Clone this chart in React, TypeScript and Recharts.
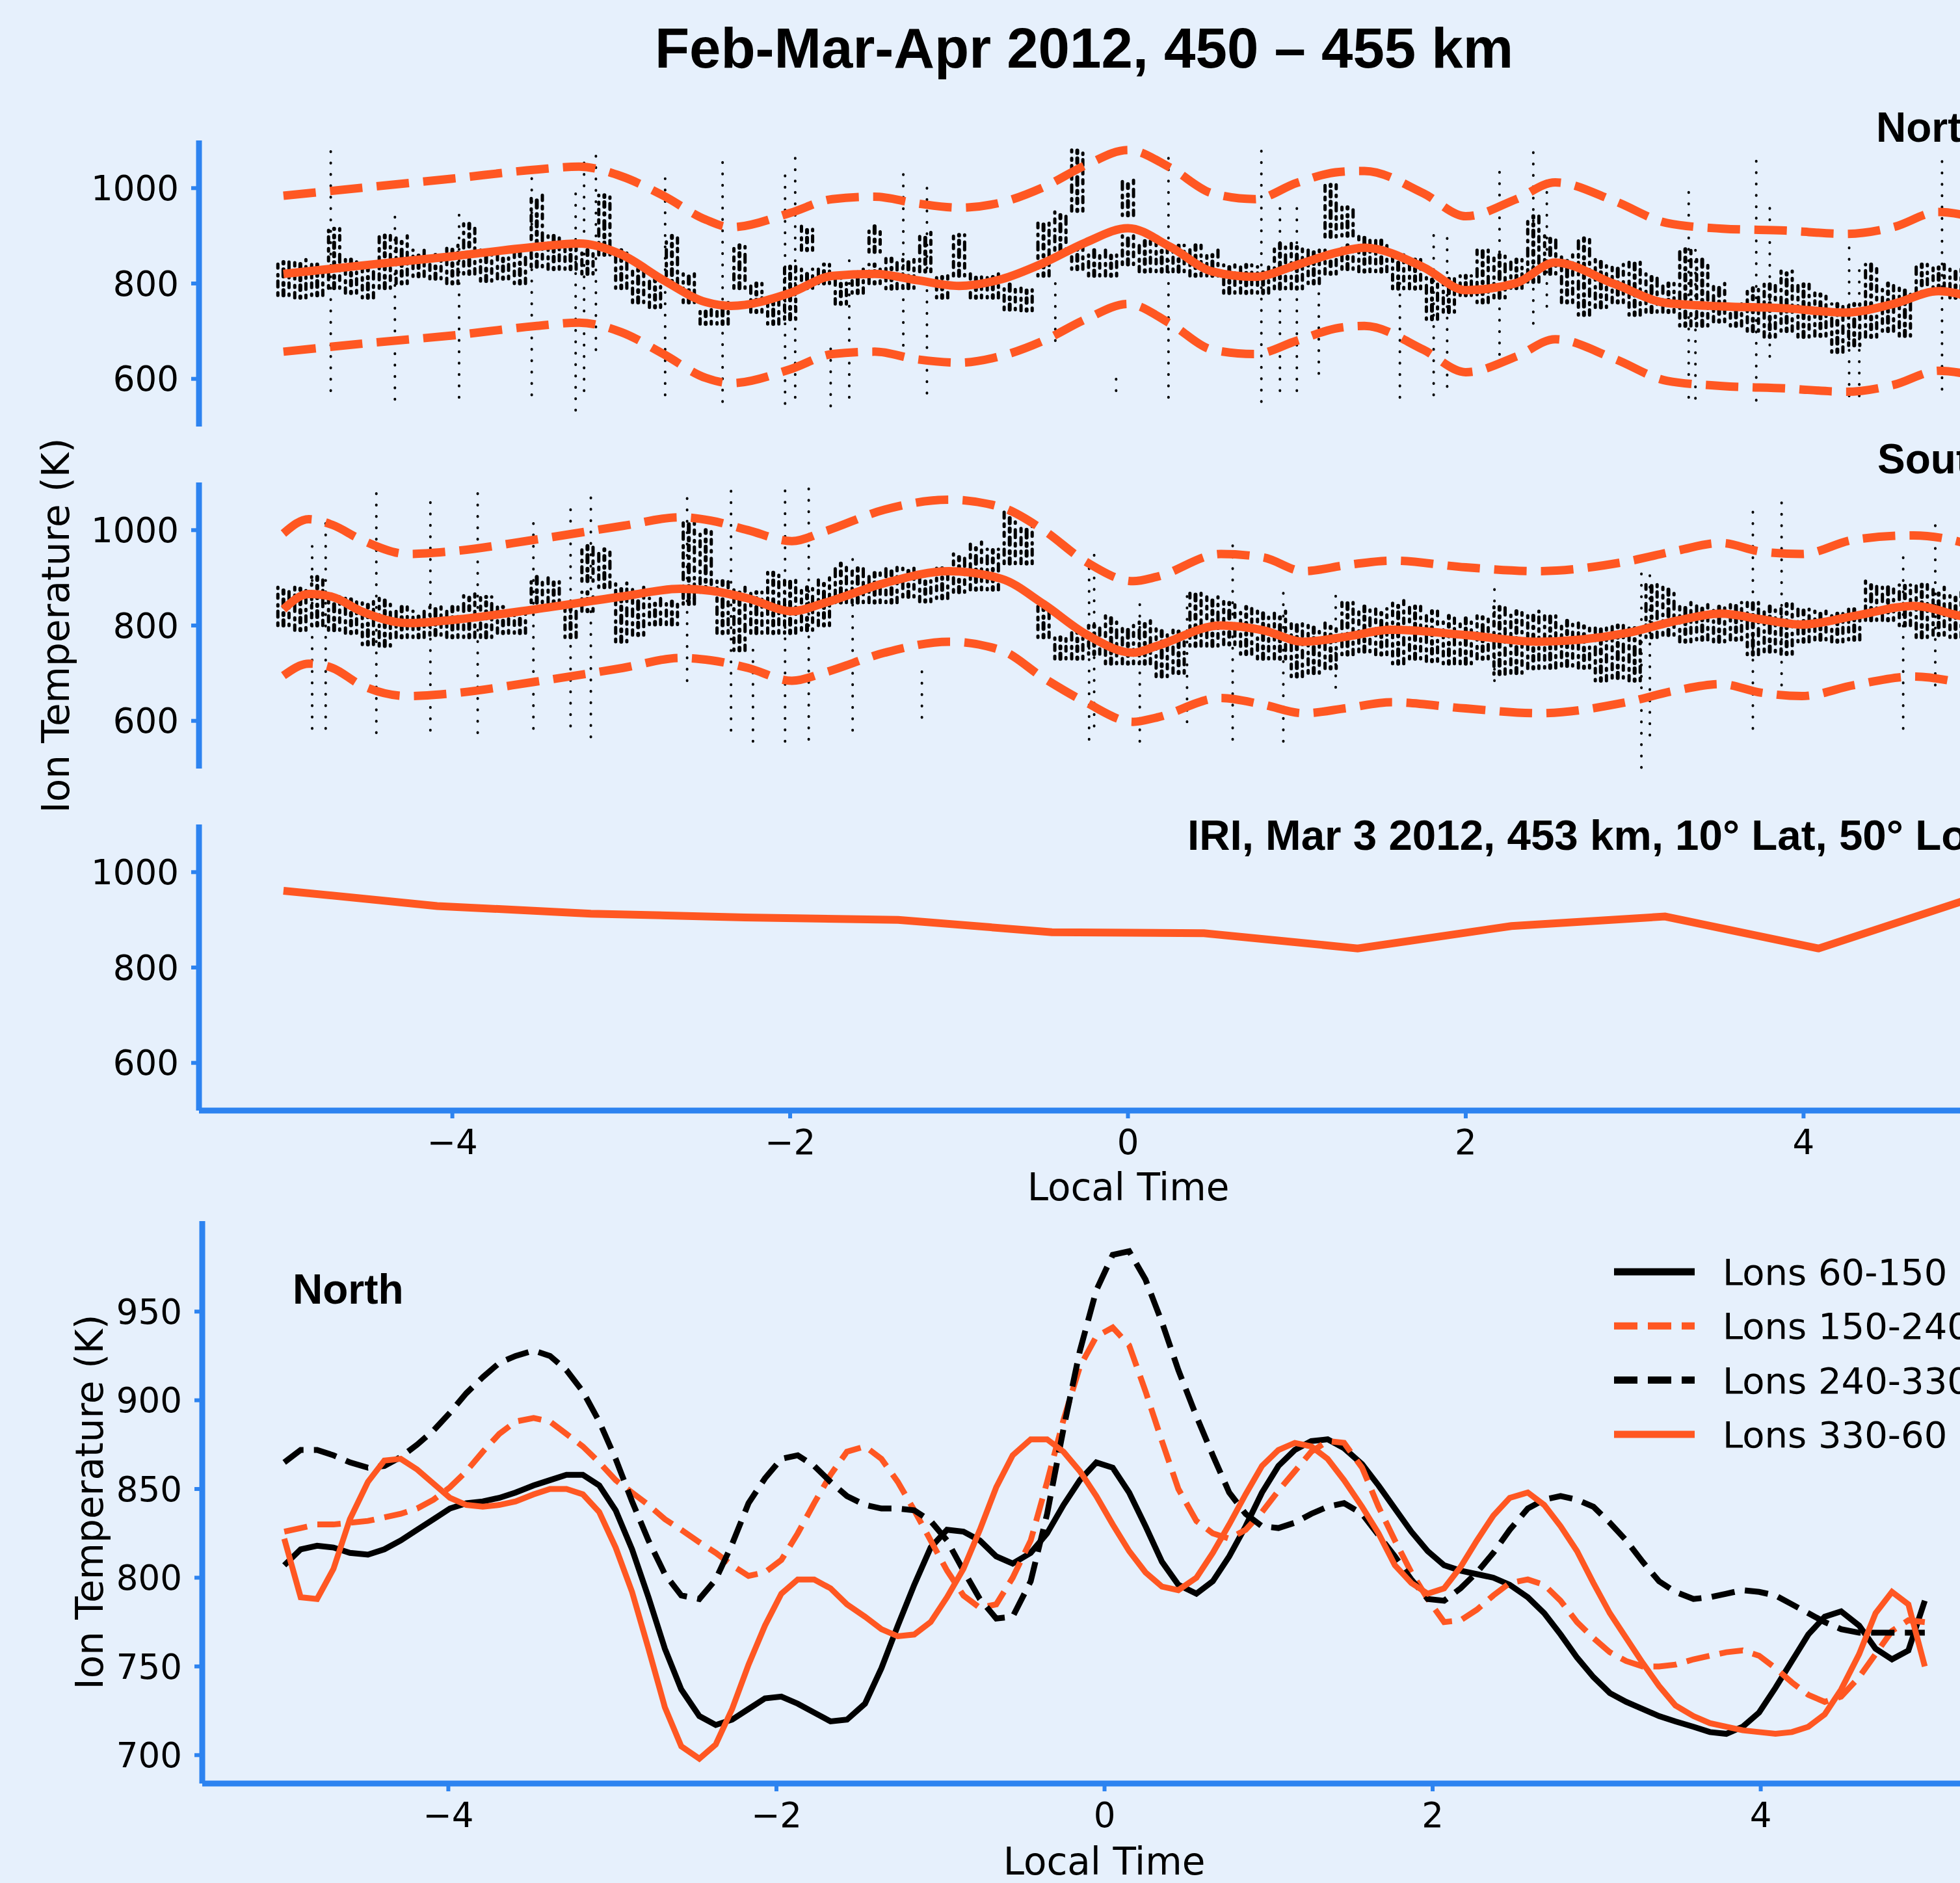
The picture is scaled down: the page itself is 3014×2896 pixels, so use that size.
import React from "react";
import { ComposedChart, LineChart, Line, XAxis, YAxis, ReferenceLine } from "recharts";

const BG = "#e6f0fc";
const SPINE = "#2d83f0";
const ORANGE = "#ff5722";
const TICK_STYLE = { fontSize: 53, fill: "#000", fontFamily: "DejaVu Sans" };
const X_TICKS = [-4, -2, 0, 2, 4];
const minus = (v: number) => (v < 0 ? `\u2212${-v}` : `${v}`);

// ---- North, 450-455 km: running mean and +/- band
const northTime = [-5, -4.5, -4, -3.5, -3.25, -3, -2.75, -2.5, -2.35, -2, -1.75, -1.5, -1.25, -1, -0.75, -0.5, -0.25, 0, 0.25, 0.5, 0.75, 1, 1.25, 1.4, 1.75, 2, 2.3, 2.53, 2.88, 3.19, 3.52, 3.89, 4.25, 4.53, 4.8, 5];
const northMean = [820, 839, 857, 877, 884, 861, 807, 761, 753, 780, 816, 820, 807, 795, 809, 843, 886, 916, 877, 825, 814, 839, 866, 875, 834, 786, 801, 844, 799, 759, 752, 748, 739, 757, 784, 770];
const northUpper = [984, 1002, 1020, 1039, 1045, 1025, 984, 934, 918, 948, 977, 982, 968, 959, 970, 1002, 1048, 1080, 1043, 989, 977, 1011, 1034, 1036, 989, 941, 977, 1012, 973, 927, 915, 911, 904, 918, 950, 940];
const northLower = [657, 675, 691, 711, 718, 698, 652, 602, 591, 620, 652, 657, 641, 634, 648, 680, 725, 757, 716, 661, 652, 680, 707, 711, 661, 614, 647, 683, 642, 596, 585, 580, 573, 587, 617, 608];

// dense part of the measurements: [local time, low, high]
const northCore = [
  [-5.0, 775, 845], [-4.9, 770, 850], [-4.8, 775, 840], [-4.7, 790, 915], [-4.6, 780, 850], [-4.5, 770, 845], [-4.4, 790, 905], [-4.3, 800, 900], [-4.2, 815, 870], [-4.1, 810, 860],
  [-4.0, 800, 880], [-3.9, 820, 925], [-3.8, 805, 870], [-3.7, 810, 860], [-3.6, 800, 865], [-3.5, 835, 985], [-3.4, 830, 900], [-3.3, 830, 880], [-3.2, 820, 870], [-3.1, 860, 985],
  [-3.0, 790, 870], [-2.9, 760, 830], [-2.8, 750, 810], [-2.7, 800, 900], [-2.6, 760, 820], [-2.5, 715, 750], [-2.4, 715, 760], [-2.3, 790, 880], [-2.2, 740, 800], [-2.1, 715, 770],
  [-2.0, 725, 843], [-1.9, 870, 920], [-1.9, 790, 830], [-1.8, 800, 840], [-1.7, 757, 816], [-1.6, 780, 830], [-1.5, 866, 920], [-1.5, 800, 840], [-1.4, 789, 852], [-1.3, 790, 850],
  [-1.2, 825, 907], [-1.1, 770, 816], [-1.0, 816, 902], [-0.9, 770, 820], [-0.8, 770, 820], [-0.7, 745, 798], [-0.6, 743, 790], [-0.5, 816, 930], [-0.4, 870, 950], [-0.3, 952, 1080],
  [-0.3, 830, 880], [-0.2, 816, 870], [-0.1, 816, 870], [0.0, 943, 1020], [0.0, 840, 900], [0.1, 825, 889], [0.2, 825, 889], [0.3, 825, 880], [0.4, 816, 880], [0.5, 816, 870],
  [0.6, 780, 839], [0.7, 780, 839], [0.8, 780, 835], [0.9, 789, 884], [1.0, 789, 884], [1.1, 800, 870], [1.2, 898, 1007], [1.2, 820, 870], [1.3, 900, 960], [1.3, 830, 880],
  [1.4, 825, 902], [1.5, 825, 890], [1.6, 789, 861], [1.7, 789, 850], [1.8, 725, 816], [1.9, 740, 810], [2.0, 775, 816], [2.1, 760, 870], [2.2, 770, 860], [2.3, 790, 850],
  [2.4, 803, 941], [2.5, 820, 900], [2.6, 760, 860], [2.7, 734, 895], [2.8, 750, 850], [2.9, 760, 840], [3.0, 734, 845], [3.1, 740, 820], [3.2, 740, 800], [3.3, 711, 872],
  [3.4, 711, 850], [3.5, 720, 800], [3.6, 711, 757], [3.7, 700, 790], [3.8, 688, 803], [3.9, 700, 826], [4.0, 688, 800], [4.1, 690, 780], [4.2, 656, 757], [4.3, 670, 757],
  [4.4, 688, 840], [4.5, 700, 800], [4.6, 690, 790], [4.7, 780, 840], [4.8, 790, 840], [4.9, 770, 830],
];
// sparse vertical runs of points: [local time, low, high]
const northStreaks = [
  [-4.72, 575, 1100], [-4.34, 557, 948], [-3.96, 561, 957], [-3.53, 566, 1025], [-3.27, 534, 989], [-3.22, 575, 1070], [-3.15, 661, 1070], [-2.74, 566, 1020], [-2.4, 552, 1061],
  [-2.03, 548, 1034], [-1.97, 561, 1075], [-1.76, 543, 680], [-1.65, 561, 870], [-1.33, 670, 1043], [-1.19, 570, 1002], [-0.43, 680, 816], [-0.07, 575, 611], [0.24, 561, 1070],
  [0.79, 552, 1098], [0.9, 575, 961], [1.0, 575, 966], [1.13, 611, 793], [1.61, 561, 807], [1.81, 566, 916], [1.89, 584, 916], [2.2, 651, 1037], [2.4, 716, 1078], [2.48, 752, 1028],
  [3.32, 561, 1005], [3.36, 559, 872], [3.72, 555, 1064], [3.8, 647, 959], [4.27, 564, 876], [4.33, 564, 844], [4.82, 578, 1069],
];

// ---- South
const southTime = [-5, -4.85, -4.71, -4.54, -4.26, -4.02, -3.51, -2.99, -2.65, -2.47, -2.25, -1.99, -1.79, -1.44, -1.06, -0.75, -0.5, -0.25, 0.03, 0.17, 0.55, 0.8, 1.04, 1.3, 1.56, 2, 2.43, 2.95, 3.25, 3.51, 3.75, 3.99, 4.3, 4.65, 4.93, 5];
const southMean = [834, 866, 860, 830, 805, 811, 834, 861, 877, 873, 857, 830, 848, 889, 914, 898, 845, 782, 743, 757, 800, 790, 766, 777, 791, 780, 766, 784, 810, 825, 813, 802, 820, 841, 820, 815];
const southUpper = [993, 1023, 1011, 980, 950, 955, 980, 1009, 1027, 1020, 1000, 977, 998, 1043, 1064, 1048, 1000, 934, 893, 902, 950, 943, 914, 927, 936, 922, 914, 934, 957, 973, 955, 950, 980, 989, 975, 968];
const southLower = [695, 720, 711, 675, 652, 657, 682, 711, 732, 727, 711, 684, 702, 743, 766, 748, 690, 639, 598, 607, 648, 634, 616, 627, 639, 626, 616, 639, 664, 677, 659, 652, 675, 693, 680, 675];

const southCore = [
  [-5.0, 800, 880], [-4.9, 790, 880], [-4.8, 800, 902], [-4.7, 790, 860], [-4.6, 784, 857], [-4.5, 760, 850], [-4.4, 757, 857], [-4.3, 775, 839], [-4.2, 775, 830], [-4.1, 780, 839],
  [-4.0, 775, 839], [-3.9, 775, 866], [-3.8, 775, 860], [-3.7, 784, 839], [-3.6, 784, 830], [-3.5, 848, 902], [-3.4, 848, 900], [-3.3, 775, 848], [-3.2, 893, 970], [-3.2, 830, 870],
  [-3.1, 880, 960], [-3.0, 766, 889], [-2.9, 780, 880], [-2.8, 802, 857], [-2.7, 802, 850], [-2.6, 857, 1016], [-2.6, 845, 880], [-2.5, 870, 1000], [-2.4, 784, 893], [-2.3, 748, 880],
  [-2.2, 784, 870], [-2.1, 784, 911], [-2.0, 784, 900], [-1.9, 790, 880], [-1.8, 800, 900], [-1.7, 848, 930], [-1.6, 848, 920], [-1.5, 848, 910], [-1.4, 848, 925], [-1.3, 860, 920],
  [-1.2, 850, 910], [-1.1, 857, 920], [-1.0, 870, 950], [-0.9, 875, 975], [-0.8, 875, 960], [-0.7, 930, 1039], [-0.6, 930, 1010], [-0.5, 775, 840], [-0.4, 730, 775], [-0.3, 730, 790],
  [-0.2, 740, 800], [-0.1, 720, 820], [0.0, 720, 800], [0.1, 720, 810], [0.2, 693, 793], [0.3, 700, 790], [0.4, 757, 875], [0.5, 757, 860], [0.6, 760, 850], [0.7, 740, 839],
  [0.8, 730, 830], [0.9, 730, 830], [1.0, 693, 811], [1.1, 700, 800], [1.2, 710, 805], [1.3, 739, 848], [1.4, 745, 840], [1.5, 739, 835], [1.6, 720, 852], [1.7, 730, 840],
  [1.8, 725, 830], [1.9, 720, 820], [2.0, 720, 815], [2.1, 730, 820], [2.2, 698, 839], [2.3, 700, 830], [2.4, 710, 830], [2.5, 711, 820], [2.6, 715, 810], [2.7, 711, 805],
  [2.8, 684, 802], [2.9, 690, 800], [3.0, 684, 795], [3.1, 775, 893], [3.2, 780, 880], [3.3, 766, 848], [3.4, 770, 845], [3.5, 766, 840], [3.6, 770, 848], [3.7, 739, 848],
  [3.8, 745, 840], [3.9, 740, 845], [4.0, 766, 834], [4.1, 770, 830], [4.2, 766, 825], [4.3, 770, 834], [4.4, 811, 893], [4.5, 811, 880], [4.6, 800, 885], [4.7, 775, 893],
  [4.8, 780, 880], [4.9, 775, 870],
];
const southStreaks = [
  [-4.83, 584, 966], [-4.75, 584, 1025], [-4.45, 575, 1080], [-4.13, 580, 1066], [-3.85, 575, 1098], [-3.52, 584, 1030], [-3.3, 589, 1057], [-3.18, 566, 1084], [-2.61, 684, 1084],
  [-2.35, 580, 1084], [-2.22, 557, 757], [-2.03, 557, 1098], [-1.89, 561, 1089], [-1.63, 580, 948], [-1.22, 607, 720], [-0.2, 589, 948], [-0.23, 561, 939], [0.07, 557, 861],
  [0.35, 598, 875], [0.62, 561, 970], [0.92, 557, 875], [1.23, 670, 875], [2.17, 684, 880], [3.04, 502, 911], [3.09, 570, 911], [3.7, 584, 1061], [3.87, 675, 1066],
  [4.59, 584, 948], [4.78, 675, 1016],
];

// ---- IRI model, Mar 3 2012
const iriTime = [-5, -4.09, -3.18, -2.27, -1.36, -0.45, 0.45, 1.36, 2.27, 3.18, 4.09, 5];
const iriTemp = [961, 929, 913, 905, 900, 874, 872, 840, 887, 907, 840, 946];

// ---- North, by longitude sector
const lonTime = [
  -5.0, -4.9, -4.8, -4.7, -4.6, -4.49, -4.39, -4.29, -4.19, -4.09, -3.99, -3.89, -3.79, -3.69, -3.59, -3.48, -3.38, -3.28, -3.18, -3.08,
  -2.98, -2.88, -2.78, -2.68, -2.58, -2.47, -2.37, -2.27, -2.17, -2.07, -1.97, -1.87, -1.77, -1.67, -1.57, -1.46, -1.36, -1.26, -1.16, -1.06,
  -0.96, -0.86, -0.76, -0.66, -0.56, -0.45, -0.35, -0.25, -0.15, -0.05, 0.05, 0.15, 0.25, 0.35, 0.45, 0.56, 0.66, 0.76, 0.86, 0.96,
  1.06, 1.16, 1.26, 1.36, 1.46, 1.57, 1.67, 1.77, 1.87, 1.97, 2.07, 2.17, 2.27, 2.37, 2.47, 2.58, 2.68, 2.78, 2.88, 2.98,
  3.08, 3.18, 3.28, 3.38, 3.48, 3.59, 3.69, 3.79, 3.89, 3.99, 4.09, 4.19, 4.29, 4.39, 4.49, 4.6, 4.7, 4.8, 4.9, 5.0,
];
const lons60 = [
  807, 816, 818, 817, 814, 813, 816, 821, 827, 833, 839, 842, 843, 845, 848, 852, 855, 858, 858, 852,
  838, 816, 789, 760, 737, 722, 717, 720, 726, 732, 733, 729, 724, 719, 720, 729, 749, 773, 796, 817,
  827, 826, 821, 812, 808, 814, 825, 841, 855, 865, 862, 848, 829, 809, 796, 791, 798, 812, 829, 848,
  863, 872, 877, 878, 873, 864, 852, 839, 826, 815, 807, 804, 802, 800, 796, 789, 780, 768, 755, 744,
  735, 730, 726, 722, 719, 716, 713, 712, 716, 724, 738, 753, 768, 778, 781, 773, 760, 754, 759, 787,
];
const lons150 = [
  826, 828, 830, 830, 831, 832, 834, 836, 839, 844, 851, 860, 871, 881, 888, 890, 888, 881, 874, 865,
  855, 848, 841, 833, 827, 820, 814, 807, 801, 803, 810, 825, 842, 858, 871, 874, 867, 854, 838, 821,
  804, 790, 783, 785, 800, 821, 854, 889, 919, 936, 941, 931, 905, 877, 850, 832, 825, 822, 827, 837,
  849, 860, 871, 877, 876, 862, 840, 821, 803, 788, 775, 776, 782, 790, 797, 799, 796, 787, 775, 766,
  758, 753, 750, 750, 751, 754, 756, 758, 759, 756, 749, 741, 734, 730, 733, 744, 757, 770, 776, 775,
];
const lons240 = [
  865, 872, 872, 869, 865, 862, 863, 868, 875, 883, 893, 904, 913, 921, 925, 928, 925, 917, 905, 888,
  867, 843, 821, 802, 790, 788, 799, 819, 842, 856, 867, 869, 863, 854, 846, 841, 839, 839, 838, 832,
  821, 804, 788, 777, 778, 798, 836, 884, 928, 962, 982, 984, 968, 944, 917, 891, 869, 848, 836, 829,
  828, 831, 836, 840, 842, 836, 824, 812, 799, 788, 787, 794, 803, 814, 827, 839, 844, 846, 844, 840,
  831, 821, 809, 798, 792, 788, 789, 791, 793, 792, 790, 785, 780, 775, 771, 769, 769, 769, 769, 769,
];
const lons330 = [
  822, 789, 788, 805, 833, 854, 866, 867, 861, 853, 845, 841, 840, 841, 843, 847, 850, 850, 847, 837,
  817, 792, 760, 727, 705, 698, 706, 726, 751, 773, 791, 799, 799, 794, 785, 778, 771, 767, 768, 775,
  789, 805, 827, 851, 869, 878, 878, 871, 860, 846, 830, 815, 803, 795, 793, 800, 814, 830, 847, 863,
  872, 876, 874, 867, 855, 840, 825, 807, 797, 791, 794, 806, 821, 835, 845, 848, 841, 829, 815, 797,
  780, 766, 752, 739, 728, 722, 718, 716, 714, 713, 712, 713, 716, 723, 737, 757, 780, 792, 785, 750,
];

const lonSeries = [
  { key: "l60", name: "Lons 60-150", color: "#000", dash: undefined, values: lons60 },
  { key: "l150", name: "Lons 150-240", color: ORANGE, dash: "36 16", values: lons150 },
  { key: "l240", name: "Lons 240-330", color: "#000", dash: "36 16", values: lons240 },
  { key: "l330", name: "Lons 330-60", color: ORANGE, dash: undefined, values: lons330 },
];

const axisLine = { stroke: SPINE, strokeWidth: 9 };
const tickLine = { stroke: SPINE, strokeWidth: 6 };

// three thin columns of blobs per cell of dense points
const COLUMN_OFFSETS = [-0.033, 0, 0.033];
const COLUMN_WIDTHS = [5, 6, 5];
const COLUMN_DASHES = ["4 9 9 8 2 10 6 9", "8 8 3 10 11 9 5 8", "2 10 7 8 4 9 12 10"];

function bandRows(time: number[], mean: number[], upper: number[], lower: number[]) {
  return time.map((t, i) => ({ t, mean: mean[i], upper: upper[i], lower: lower[i] }));
}

function ScatterPanel({ top, rows, core, streaks }: { top: number; rows: any[]; core: number[][]; streaks: number[][] }) {
  return (
    <div style={{ position: "absolute", left: 0, top: top - 60 }}>
      <ComposedChart width={3200} height={510} data={rows} margin={{ top: 60, right: 37, bottom: 10, left: 0 }}>
        <XAxis type="number" dataKey="t" domain={[-5.5, 5.5]} allowDataOverflow hide />
        <YAxis type="number" domain={[500, 1100]} allowDataOverflow ticks={[600, 800, 1000]} width={306}
          axisLine={axisLine} tickLine={tickLine} tickSize={12} tickMargin={19} tick={TICK_STYLE} />
        {core.flatMap(([t, lo, hi], i) =>
          COLUMN_OFFSETS.map((dx, j) => (
            <ReferenceLine key={`c${i}-${j}`} segment={[{ x: t + dx, y: lo }, { x: t + dx, y: hi }]} stroke="#000"
              strokeWidth={COLUMN_WIDTHS[j]} strokeDasharray={COLUMN_DASHES[(i + j) % 3]} strokeLinecap="round" zIndex={1} />
          ))
        )}
        {streaks.map(([t, lo, hi], i) => (
          <ReferenceLine key={`s${i}`} segment={[{ x: t, y: lo }, { x: t, y: hi }]} stroke="#000" strokeWidth={4}
            strokeDasharray="0.5 17" strokeLinecap="round" zIndex={1} />
        ))}
        <Line type="monotone" dataKey="upper" stroke={ORANGE} strokeWidth={13} strokeDasharray="50 22" dot={false} isAnimationActive={false} />
        <Line type="monotone" dataKey="lower" stroke={ORANGE} strokeWidth={13} strokeDasharray="50 22" dot={false} isAnimationActive={false} />
        <Line type="monotone" dataKey="mean" stroke={ORANGE} strokeWidth={13} dot={false} isAnimationActive={false} />
      </ComposedChart>
    </div>
  );
}

function IriPanel() {
  const rows = iriTime.map((t, i) => ({ t, iri: iriTemp[i] }));
  return (
    <div style={{ position: "absolute", left: 0, top: 1208 }}>
      <ComposedChart width={3200} height={620} data={rows} margin={{ top: 60, right: 37, bottom: 10, left: 0 }}>
        <XAxis type="number" dataKey="t" domain={[-5.5, 5.5]} allowDataOverflow ticks={X_TICKS} tickFormatter={minus} height={110}
          axisLine={axisLine} tickLine={tickLine} tickSize={12} tickMargin={17} tick={TICK_STYLE} />
        <YAxis type="number" domain={[500, 1100]} allowDataOverflow ticks={[600, 800, 1000]} width={306}
          axisLine={axisLine} tickLine={tickLine} tickSize={12} tickMargin={19} tick={TICK_STYLE} />
        <Line type="linear" dataKey="iri" stroke={ORANGE} strokeWidth={12} dot={false} isAnimationActive={false} />
      </ComposedChart>
    </div>
  );
}

function LonPanel() {
  const rows = lonTime.map((t, i) => {
    const row: Record<string, number> = { t };
    lonSeries.forEach((s) => (row[s.key] = s.values[i]));
    return row;
  });
  return (
    <div style={{ position: "absolute", left: 0, top: 1840 }}>
      <LineChart width={3120} height={1056} data={rows} margin={{ top: 38, right: 34, bottom: 53, left: 0 }}>
        <XAxis type="number" dataKey="t" domain={[-5.5, 5.5]} allowDataOverflow ticks={X_TICKS} tickFormatter={minus} height={100}
          axisLine={axisLine} tickLine={tickLine} tickSize={12} tickMargin={17} tick={TICK_STYLE} />
        <YAxis type="number" domain={[684, 1001]} allowDataOverflow ticks={[700, 750, 800, 850, 900, 950]} width={311}
          axisLine={axisLine} tickLine={tickLine} tickSize={12} tickMargin={19} tick={TICK_STYLE} />
        {lonSeries.map((s) => (
          <Line key={s.key} type="linear" dataKey={s.key} name={s.name} stroke={s.color} strokeWidth={9}
            strokeDasharray={s.dash} dot={false} isAnimationActive={false} />
        ))}
      </LineChart>
    </div>
  );
}

const LABEL_FONT = "'Liberation Sans', Arial, sans-serif";

export default function App() {
  return (
    <div style={{ position: "absolute", left: 0, top: 0, width: 3014, height: 2896, overflow: "hidden", background: BG }}>
      <ScatterPanel top={216} rows={bandRows(northTime, northMean, northUpper, northLower)} core={northCore} streaks={northStreaks} />
      <ScatterPanel top={742} rows={bandRows(southTime, southMean, southUpper, southLower)} core={southCore} streaks={southStreaks} />
      <IriPanel />
      <LonPanel />
      <svg width={3014} height={2896} style={{ position: "absolute", left: 0, top: 0, pointerEvents: "none" }}>
        <text x={1667} y={104} textAnchor="middle" fontFamily={LABEL_FONT} fontWeight="bold" fontSize={87}>
          Feb-Mar-Apr 2012, 450 – 455 km
        </text>
        <g fontFamily={LABEL_FONT} fontWeight="bold" fontSize={64}>
          <text x={2885} y={218}>North</text>
          <text x={2887} y={728}>South</text>
          <text x={1826} y={1307} fontSize={65.5}>IRI, Mar 3 2012, 453 km, 10° Lat, 50° Lon</text>
          <text x={450} y={2005}>North</text>
        </g>
        <g fontFamily="DejaVu Sans" fontSize={58}>
          <text transform="translate(106, 962) rotate(-90)" textAnchor="middle">Ion Temperature (K)</text>
          <text transform="translate(158, 2310) rotate(-90)" textAnchor="middle">Ion Temperature (K)</text>
          <text x={1735} y={1846} textAnchor="middle">Local Time</text>
          <text x={1698} y={2883} textAnchor="middle">Local Time</text>
        </g>
        <g fontFamily="DejaVu Sans" fontSize={56}>
          {lonSeries.map((s, i) => {
            const y = 1956 + i * 83.3;
            return (
              <g key={s.key}>
                <line x1={2482} x2={2606} y1={y} y2={y} stroke={s.color} strokeWidth={11} strokeDasharray={s.dash} />
                <text x={2649} y={y + 20}>{s.name}</text>
              </g>
            );
          })}
        </g>
      </svg>
    </div>
  );
}
